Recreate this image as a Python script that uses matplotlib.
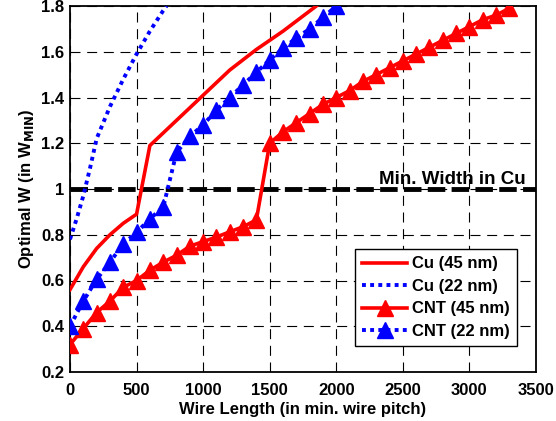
import matplotlib
matplotlib.use("Agg")
import matplotlib.pyplot as plt

plt.rcParams['font.family'] = ['Liberation Sans', 'DejaVu Sans']
plt.rcParams['font.weight'] = 'bold'

cu45_x = [0, 100, 200, 300, 400, 500, 600, 800, 1000, 1200, 1400, 1600, 1850]
cu45_y = [0.56, 0.66, 0.74, 0.80, 0.85, 0.89, 1.19, 1.30, 1.41, 1.52, 1.61, 1.69, 1.80]

cu22_x = [0, 50, 100, 150, 200, 300, 400, 500, 600, 700, 725]
cu22_y = [0.78, 0.87, 0.97, 1.09, 1.22, 1.36, 1.48, 1.59, 1.69, 1.78, 1.80]

cnt45_x = list(range(0, 3400, 100))
cnt45_y = [0.32, 0.39, 0.46, 0.51, 0.57, 0.60, 0.645, 0.68, 0.71, 0.75, 0.77,
           0.79, 0.813, 0.835, 0.865, 1.20, 1.25, 1.29, 1.33, 1.37, 1.40,
           1.43, 1.47, 1.50, 1.53, 1.56, 1.59, 1.62, 1.65, 1.68, 1.71, 1.74, 1.76, 1.79]

cnt22_x = list(range(0, 2100, 100))
cnt22_y = [0.40, 0.51, 0.605, 0.68, 0.76, 0.81, 0.87, 0.92, 1.16, 1.23, 1.28,
           1.345, 1.40, 1.455, 1.51, 1.565, 1.615, 1.66, 1.70, 1.75, 1.80]

min_width = 1.0
xticks = [0, 500, 1000, 1500, 2000, 2500, 3000, 3500]
yticks = [0.2, 0.4, 0.6, 0.8, 1.0, 1.2, 1.4, 1.6, 1.8]
ytick_labels = ['0.2', '0.4', '0.6', '0.8', '1', '1.2', '1.4', '1.6', '1.8']

fig = plt.figure(figsize=(5.56, 4.21), dpi=100)
ax = fig.add_axes([70/556, 1-372/421, 466/556, 366/421])

fs = 12
ax.axhline(min_width, color='black', lw=3.5, ls=(0, (3.6, 1.3)), zorder=2)
ax.plot(cu45_x, cu45_y, color='#ff0000', lw=2.6, label='Cu (45 nm)', zorder=3)
ax.plot(cu22_x, cu22_y, color='#0000ff', lw=2.8, ls=(0, (1, 1.1)), label='Cu (22 nm)', zorder=3)
ax.plot(cnt45_x, cnt45_y, color='#ff0000', lw=2.6, marker='^', ms=11,
        markeredgecolor='#ff0000', label='CNT (45 nm)', zorder=4)
ax.plot(cnt22_x, cnt22_y, color='#0000ff', lw=2.8, ls=(0, (1, 1.1)), marker='^', ms=11,
        markeredgecolor='#0000ff', label='CNT (22 nm)', zorder=4)

ax.text(3420, 1.02, 'Min. Width in Cu', ha='right', va='baseline', fontsize=13.5, fontweight='bold')

ax.set_xlim(0, 3500)
ax.set_ylim(0.2, 1.8)
ax.set_xticks(xticks)
ax.set_yticks(yticks)
ax.set_yticklabels(ytick_labels)
ax.grid(True, color='black', ls=(0, (9, 6)), lw=0.8)
ax.tick_params(axis='both', labelsize=fs, direction='in', length=0)
ax.tick_params(axis='x', pad=8)
ax.tick_params(axis='y', pad=4)
for lbl in ax.get_xticklabels() + ax.get_yticklabels():
    lbl.set_fontweight('bold')
for s in ax.spines.values():
    s.set_linewidth(1.3)

ax.set_xlabel('Wire Length (in min. wire pitch)', fontsize=fs, fontweight='bold', labelpad=3)
ax.set_ylabel('Optimal W (in W$_{\\mathbf{MIN}}$)', fontsize=fs, fontweight='bold', labelpad=4)

leg = ax.legend(loc='lower right', bbox_to_anchor=(0.96, 0.07), fontsize=fs, frameon=True,
                fancybox=False, edgecolor='black', framealpha=1, handlelength=2.7,
                borderpad=0.45, labelspacing=0.45, handletextpad=0.3, borderaxespad=0)
leg.get_frame().set_linewidth(1.0)
for t in leg.get_texts():
    t.set_fontweight('bold')

fig.savefig('out.png', dpi=100)
